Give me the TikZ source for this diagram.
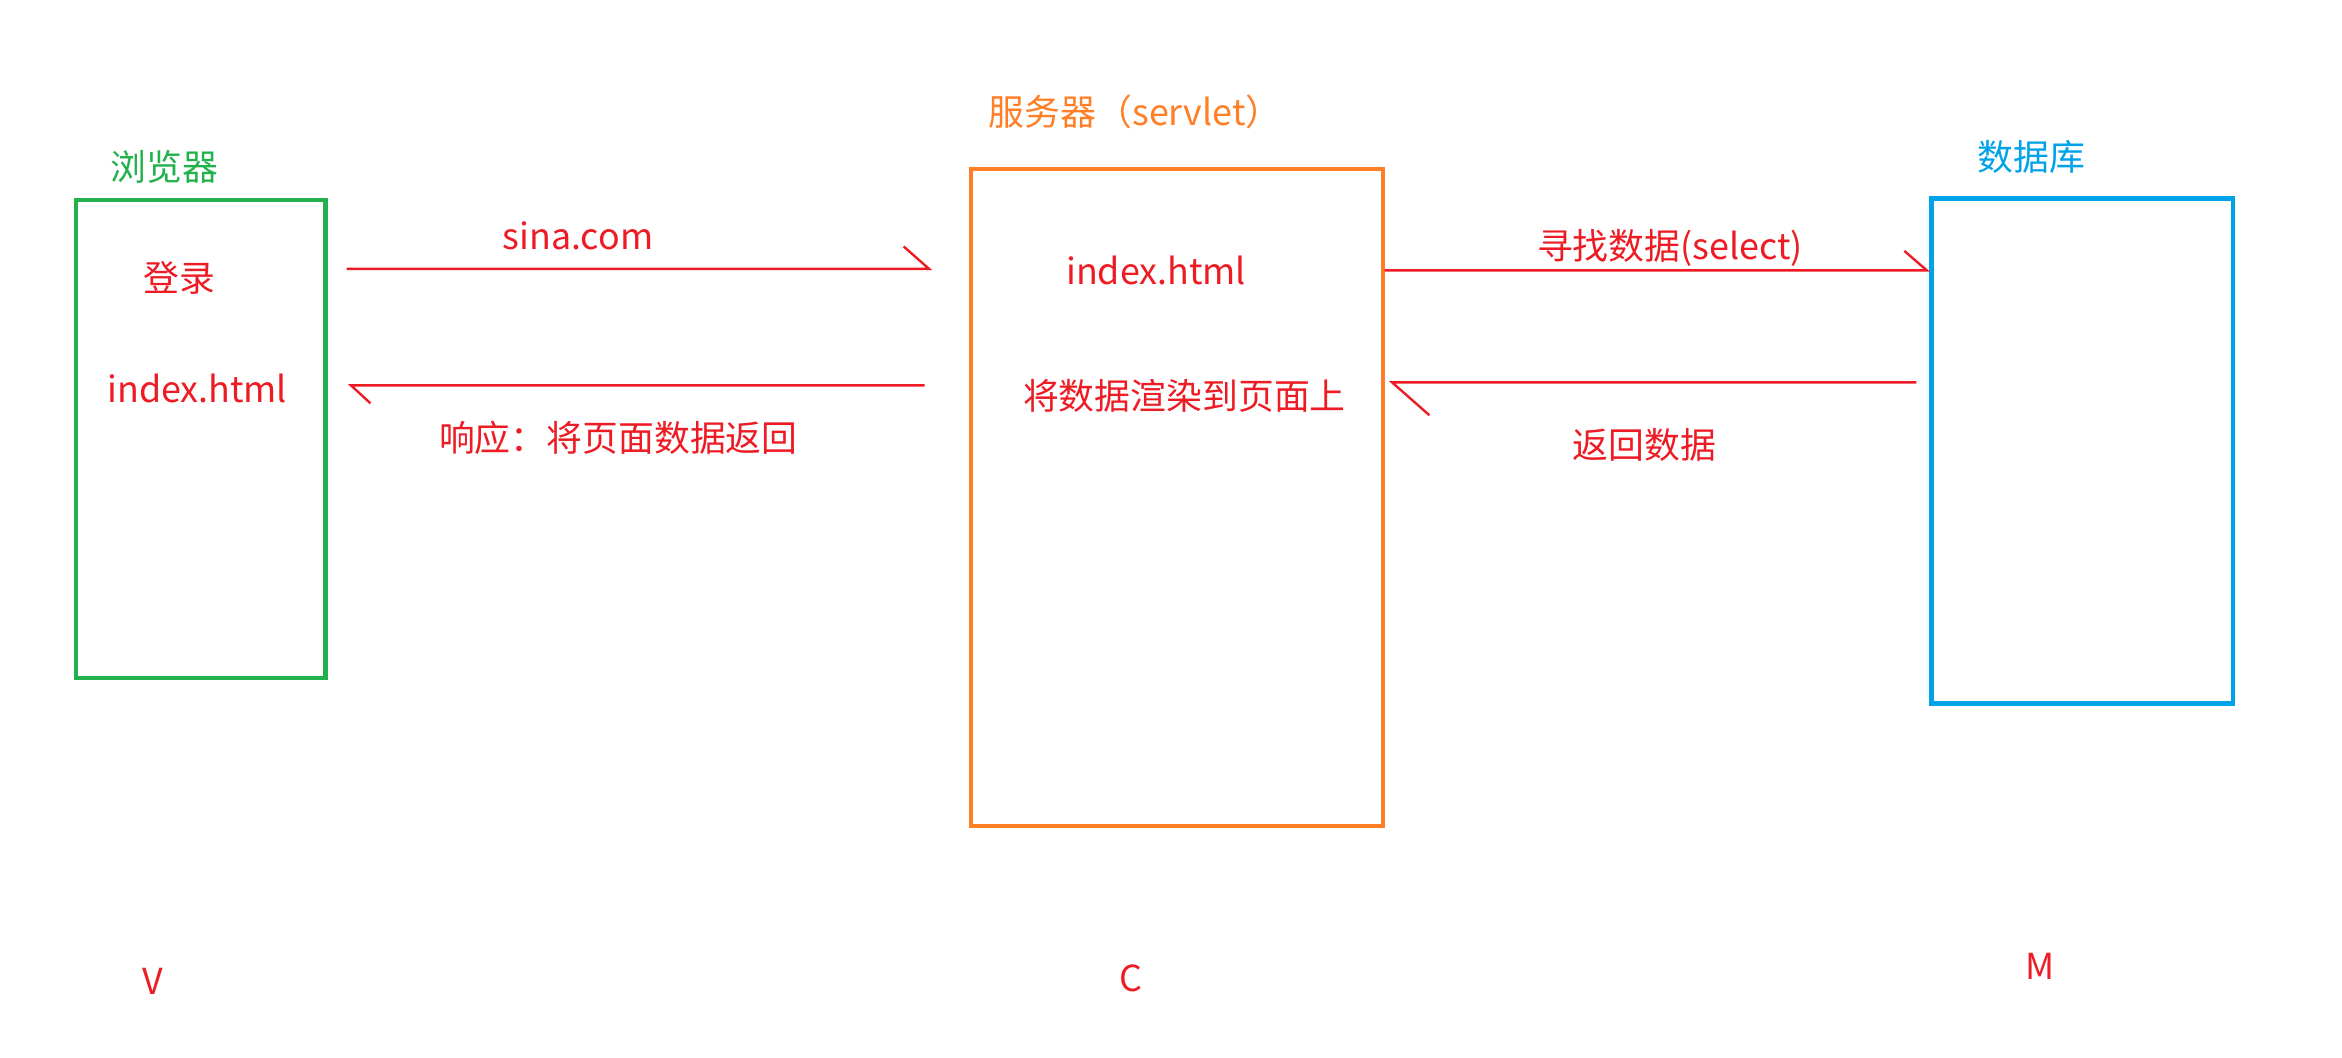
\documentclass[tikz,border=0pt]{standalone}
\usepackage{fontspec}
\setmainfont{Noto Sans CJK SC}
\definecolor{pred}{HTML}{ED1C24}
\definecolor{pgreen}{HTML}{22B14C}
\definecolor{porange}{HTML}{FF7F27}
\definecolor{pblue}{HTML}{00A2E8}
\begin{document}
\begin{tikzpicture}[x=0.5pt,y=-0.5pt,
  txt/.style={inner sep=0pt,font=\fontsize{12pt}{14pt}\selectfont},
  lbl/.style={txt,text=pred},
  box/.style={line width=1.5pt},
  ln/.style={pred,line width=0.8pt}]
\useasboundingbox (0,0) rectangle (1568,708);
\draw[box,pgreen] (51,134) rectangle (218,454);
\draw[box,porange] (650,113) rectangle (926,553);
\draw[box,pblue] (1293,133) rectangle (1495,471);
\node[txt,text=pgreen] (t1) at (110,112) {浏览器};
\node[txt,text=porange] (t2) at (760,75) {服务器（servlet）};
\node[txt,text=pblue] (t3) at (1360,105) {数据库};
\node[lbl] (a) at (120,186) {登录};
\node[lbl] (b) at (132,260) {index.html};
\node[lbl] (c) at (387,158) {sina.com};
\node[lbl] (d) at (414,293) {响应：将页面数据返回};
\node[lbl] (e) at (774,181) {index.html};
\node[lbl] (f) at (793,265) {将数据渲染到页面上};
\node[lbl] (g) at (1118,166) {寻找数据(select)};
\node[lbl] (h) at (1101,298) {返回数据};
\node[lbl] (v) at (102,657) {V};
\node[lbl] (cc) at (757,655) {C};
\node[lbl] (m) at (1366,647) {M};
\coordinate (p1) at (232,180); \coordinate (p2) at (622,180); \coordinate (p2t) at (605,165);
\coordinate (q1) at (619,258); \coordinate (q2) at (235,258); \coordinate (q2t) at (248,270);
\coordinate (r1) at (927,181); \coordinate (r2) at (1290,181); \coordinate (r2t) at (1275,168);
\coordinate (s1) at (1283,256); \coordinate (s2) at (932,256); \coordinate (s2t) at (957,278);
\draw[ln] (p1) -- (p2) -- (p2t);
\draw[ln] (q1) -- (q2) -- (q2t);
\draw[ln] (r1) -- (r2) -- (r2t);
\draw[ln] (s1) -- (s2) -- (s2t);
\end{tikzpicture}
\end{document}
